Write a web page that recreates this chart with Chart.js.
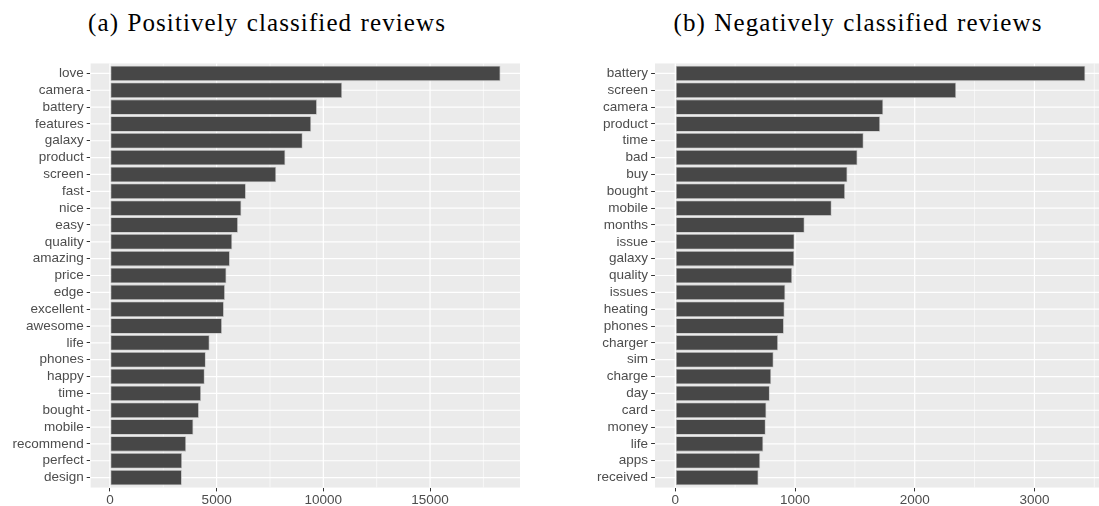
<!DOCTYPE html>
<html>
<head>
<meta charset="utf-8">
<script src="https://cdn.jsdelivr.net/npm/chart.js@4"></script>
<style>
  html, body { margin: 0; padding: 0; background: #fff; overflow: hidden; }
  #wrap { position: relative; width: 1099px; height: 506px; overflow: hidden; }
  .title {
    position: absolute; top: 8.3px; line-height: 30px;
    font-family: "Liberation Serif", "DejaVu Serif", serif; font-size: 25px;
    letter-spacing: 1.1px; word-spacing: 1px;
    color: #000; white-space: nowrap; transform: translateX(-50%);
  }
  canvas { position: absolute; top: 0; }
</style>
</head>
<body>
<div id="wrap">
  <div class="title" style="left:267px">(a) Positively classified reviews</div>
  <div class="title" style="left:858px">(b) Negatively classified reviews</div>
  <canvas id="pos" width="550" height="506" style="left:0"></canvas>
  <canvas id="neg" width="557" height="506" style="left:550px"></canvas>
</div>
<script>
// Most frequent words in positively classified reviews
const posWords = ["love", "camera", "battery", "features", "galaxy", "product", "screen",
  "fast", "nice", "easy", "quality", "amazing", "price", "edge", "excellent", "awesome",
  "life", "phones", "happy", "time", "bought", "mobile", "recommend", "perfect", "design"];
const posCounts = [18300, 10880, 9700, 9430, 9030, 8220, 7790,
  6370, 6160, 6000, 5730, 5620, 5460, 5390, 5340, 5250,
  4670, 4490, 4440, 4270, 4170, 3910, 3570, 3380, 3370];
const posTicks = [0, 5000, 10000, 15000];

// Most frequent words in negatively classified reviews
const negWords = ["battery", "screen", "camera", "product", "time", "bad", "buy", "bought",
  "mobile", "months", "issue", "galaxy", "quality", "issues", "heating", "phones", "charger",
  "sim", "charge", "day", "card", "money", "life", "apps", "received"];
const negCounts = [3425, 2346, 1737, 1711, 1573, 1522, 1438, 1418,
  1306, 1080, 996, 994, 976, 919, 913, 907, 858,
  821, 801, 789, 761, 755, 735, 709, 695];
const negTicks = [0, 1000, 2000, 3000];

const PANEL_BG = "#EBEBEB";
const AXIS_TEXT = "#4D4D4D";
const TICK_COLOR = "#333333";

// grey panel with white major / minor grid lines, ggplot style
const panelPlugin = {
  id: "panel",
  beforeDatasetsDraw(chart, args, opts) {
    const { ctx, chartArea: a, scales } = chart;
    const xs = scales.x, ys = scales.y;
    const step = opts.ticks[1] - opts.ticks[0];
    ctx.save();
    ctx.beginPath();
    ctx.rect(a.left, a.top, a.right - a.left, a.bottom - a.top);
    ctx.clip();
    ctx.fillStyle = PANEL_BG;
    ctx.fillRect(a.left, a.top, a.right - a.left, a.bottom - a.top);
    ctx.strokeStyle = "#FFFFFF";
    // minor vertical lines, halfway between the labelled ticks
    ctx.lineWidth = 0.6;
    for (let v = step / 2; v < xs.max; v += step) {
      const p = xs.getPixelForValue(v);
      ctx.beginPath(); ctx.moveTo(p, a.top); ctx.lineTo(p, a.bottom); ctx.stroke();
    }
    // major vertical lines
    ctx.lineWidth = 1.2;
    for (let v = 0; v < xs.max; v += step) {
      const p = xs.getPixelForValue(v);
      ctx.beginPath(); ctx.moveTo(p, a.top); ctx.lineTo(p, a.bottom); ctx.stroke();
    }
    // major horizontal lines at each word
    for (let i = 0; i < opts.count; i++) {
      const p = ys.getPixelForValue(i);
      ctx.beginPath(); ctx.moveTo(a.left, p); ctx.lineTo(a.right, p); ctx.stroke();
    }
    ctx.restore();
  }
};

function makeChart(id, words, counts, tickValues, axisWidth, padRight) {
  const n = words.length;
  const top = Math.max(...counts);
  const expand = top * 0.05;
  return new Chart(document.getElementById(id), {
    type: "bar",
    data: {
      datasets: [{
        data: counts.map((c, i) => ({ x: c, y: i })),
        backgroundColor: "#474747",
        borderColor: "#BDBDBD",
        borderWidth: 0.8,
        borderSkipped: false,
        barPercentage: 0.92,
        categoryPercentage: 1.0
      }]
    },
    options: {
      indexAxis: "y",
      responsive: false,
      animation: false,
      events: [],
      layout: { padding: { top: 63.3, right: padRight, left: 0, bottom: 0 } },
      plugins: {
        legend: { display: false },
        tooltip: { enabled: false },
        panel: { ticks: tickValues, count: n }
      },
      scales: {
        x: {
          type: "linear",
          min: -expand,
          max: top + expand,
          afterBuildTicks: (s) => { s.ticks = tickValues.map((v) => ({ value: v })); },
          afterFit: (s) => { s.height = 18.3; },
          border: { display: false },
          grid: { drawOnChartArea: false, drawTicks: true, tickLength: 3.7, tickColor: TICK_COLOR, tickWidth: 1 },
          ticks: {
            padding: 1, maxRotation: 0, autoSkip: false,
            color: AXIS_TEXT,
            font: { family: "Liberation Sans", size: 13.5 },
            callback: (v) => String(v)
          }
        },
        y: {
          type: "linear",
          reverse: true,
          offset: false,
          min: -0.6,
          max: n - 1 + 0.6,
          afterBuildTicks: (s) => { s.ticks = words.map((w, i) => ({ value: i })); },
          afterFit: (s) => { s.width = axisWidth; },
          border: { display: false },
          grid: { offset: false, drawOnChartArea: false, drawTicks: true, tickLength: 3.7, tickColor: TICK_COLOR, tickWidth: 1 },
          ticks: {
            autoSkip: false, padding: 3,
            color: AXIS_TEXT,
            font: { family: "Liberation Sans", size: 13.5 },
            callback: (v) => words[Math.round(v)] ?? ""
          }
        }
      }
    },
    plugins: [panelPlugin]
  });
}

makeChart("pos", posWords, posCounts, posTicks, 90.4, 30);
makeChart("neg", negWords, negCounts, negTicks, 104.8, 1.2);
</script>
</body>
</html>
